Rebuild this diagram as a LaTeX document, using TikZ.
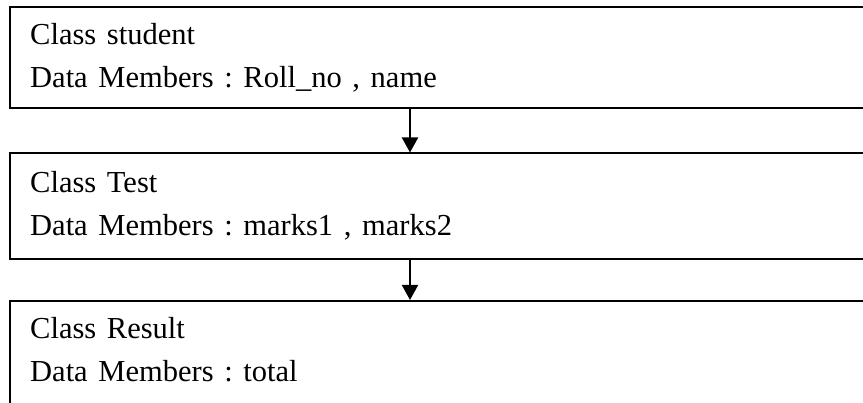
\documentclass[tikz,border=0pt]{standalone}
\usepackage{fontspec}
\setmainfont[WordSpace=1.4]{Liberation Serif}
\usetikzlibrary{arrows.meta}
\frenchspacing
\begin{document}
\begin{tikzpicture}[x=1pt,y=-1pt,
  box/.style={draw=black,line width=2pt,rectangle,anchor=north west,inner sep=0pt},
  txt/.style={anchor=base west,inner sep=0pt,font=\fontsize{30.5}{36}\selectfont},
  arr/.style={line width=2pt,-{Triangle[width=16pt,length=15pt]}}]
\useasboundingbox (0,0) rectangle (863,403);
\begin{scope}
\clip (0,0) rectangle (863,403);
\node[box,minimum width=880pt,minimum height=101pt] (b1) at (9,6) {};
\node[box,minimum width=880pt,minimum height=106pt] (b2) at (9,152.5) {};
\node[box,minimum width=880pt,minimum height=130pt] (b3) at (9,300) {};
\end{scope}
\node[txt] (t1) at (30,45) {Class student};
\node[txt] (d1) at (30,88) {Data Members : Roll\_no , name};
\node[txt] (t2) at (30,193) {Class Test};
\node[txt] (d2) at (30,236) {Data Members : marks1 , marks2};
\node[txt] (t3) at (30,339) {Class Result};
\node[txt] (d3) at (30,382) {Data Members : total};
\coordinate (ax) at (410,0);
\draw[arr] (b1.south -| ax) -- (b2.north -| ax);
\draw[arr] (b2.south -| ax) -- (b3.north -| ax);
\end{tikzpicture}
\end{document}
